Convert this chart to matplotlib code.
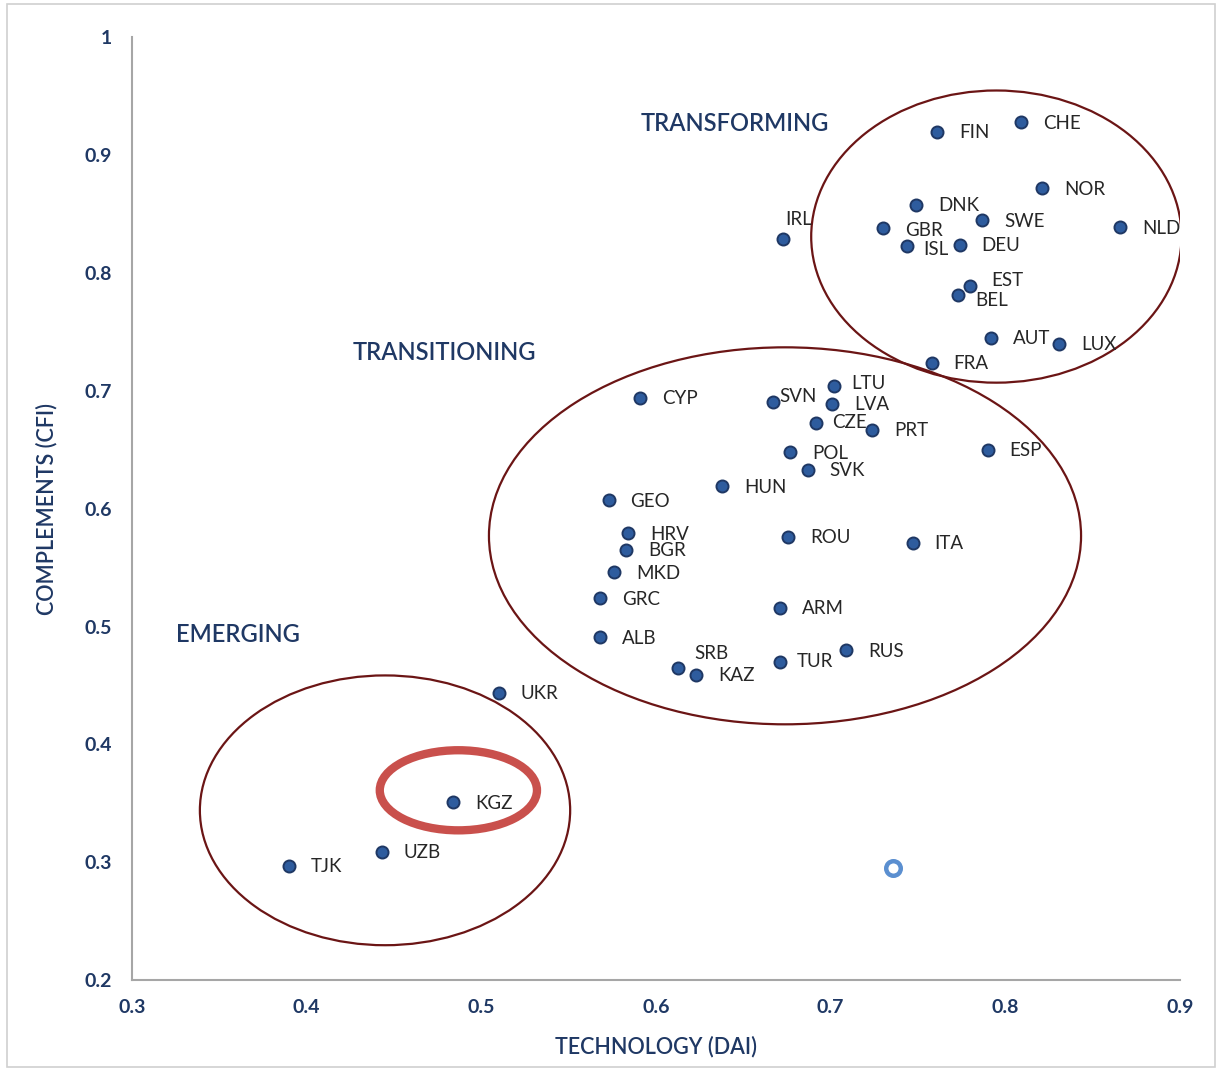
import numpy as np
import matplotlib.pyplot as plt
from matplotlib.patches import Ellipse, Rectangle

# datos de paises (DAI, CFI)
paises = ['CHE', 'FIN', 'NOR', 'DNK', 'SWE', 'NLD', 'GBR', 'IRL', 'ISL', 'DEU',
          'EST', 'BEL', 'AUT', 'LUX', 'FRA',
          'CYP', 'SVN', 'LTU', 'LVA', 'CZE', 'PRT', 'ESP', 'POL', 'SVK', 'HUN',
          'GEO', 'HRV', 'BGR', 'MKD', 'GRC', 'ROU', 'ITA', 'ARM', 'ALB', 'SRB',
          'KAZ', 'TUR', 'RUS',
          'UKR', 'KGZ', 'UZB', 'TJK']
dai = [0.809, 0.761, 0.821, 0.749, 0.787, 0.866, 0.730, 0.673, 0.744, 0.774,
       0.780, 0.773, 0.792, 0.831, 0.758,
       0.591, 0.667, 0.702, 0.701, 0.692, 0.724, 0.790, 0.677, 0.687, 0.638,
       0.573, 0.584, 0.583, 0.576, 0.568, 0.676, 0.747, 0.671, 0.568, 0.613,
       0.623, 0.671, 0.709,
       0.510, 0.484, 0.443, 0.390]
cfi = [0.928, 0.920, 0.872, 0.858, 0.845, 0.839, 0.838, 0.829, 0.823, 0.824,
       0.789, 0.781, 0.745, 0.740, 0.724,
       0.694, 0.691, 0.704, 0.689, 0.673, 0.667, 0.650, 0.648, 0.633, 0.619,
       0.607, 0.579, 0.565, 0.546, 0.524, 0.576, 0.571, 0.516, 0.491, 0.465,
       0.459, 0.470, 0.480,
       0.444, 0.351, 0.309, 0.297]

# punto suelto sin etiqueta
extra_x = [0.736]
extra_y = [0.295]

# grupos: nombre, posicion del texto y elipse (centro, ancho, alto)
grupos = ['TRANSFORMING', 'TRANSITIONING', 'EMERGING']
grupo_txt_x = [0.645, 0.479, 0.361]
grupo_txt_y = [0.927, 0.733, 0.493]
elipse_cx = [0.795, 0.674, 0.445]
elipse_cy = [0.831, 0.577, 0.344]
elipse_w = [0.212, 0.339, 0.212]
elipse_h = [0.248, 0.320, 0.229]

# resaltado de KGZ
kgz_elipse = (0.487, 0.361, 0.090, 0.068)

navy = '#1f3864'

# desplazamientos especiales de etiquetas (pixeles)
offsets = {'IRL': (2, 19), 'SVN': (7, 5), 'LTU': (17, 3), 'CZE': (16, 0),
           'ISL': (16, -3), 'EST': (21, 6), 'BEL': (17, -5), 'SRB': (16, 14),
           'TUR': (17, 0), 'GBR': (22, -2), 'FIN': (22, -1)}

plt.rcParams['font.family'] = ['Lato', 'DejaVu Sans']

fig = plt.figure(figsize=(12.2, 10.71), dpi=100)
ax = fig.add_axes([0.108, 0.085, 0.859, 0.880])

# marco exterior
fig.patches.append(Rectangle((0.006, 0.004), 0.99, 0.992, transform=fig.transFigure,
                             fill=False, edgecolor='#d0d0d0', linewidth=1.2))

ax.scatter(dai, cfi, s=75, color='#2e5c9e', edgecolor=navy, linewidth=1.4, zorder=3)
ax.scatter(extra_x, extra_y, s=110, facecolor='white', edgecolor='#5b8fd0',
           linewidth=3.2, zorder=3)

for p, x, y in zip(paises, dai, cfi):
    dx, dy = offsets.get(p, (22, -1))
    ax.annotate(p, (x, y), xytext=(dx, dy), textcoords='offset pixels',
                ha='left', va='center', fontsize=13.5, color='#262626', zorder=4)

for g, tx, ty, cx, cy, w, h in zip(grupos, grupo_txt_x, grupo_txt_y,
                                   elipse_cx, elipse_cy, elipse_w, elipse_h):
    ax.text(tx, ty, g, ha='center', va='center', fontsize=17, color=navy,
            fontweight='semibold')
    ax.add_patch(Ellipse((cx, cy), w, h, fill=False, edgecolor='#6b1515',
                         linewidth=1.6, zorder=2))

ax.add_patch(Ellipse(kgz_elipse[:2], kgz_elipse[2], kgz_elipse[3], fill=False,
                     edgecolor='#c9504c', linewidth=6, zorder=2))

ax.set_xlim(0.3, 0.9)
ax.set_ylim(0.2, 1.0)
ax.set_xticks(np.arange(0.3, 0.91, 0.1))
ax.set_yticks(np.arange(0.2, 1.01, 0.1))
ax.set_xticklabels(['0.3', '0.4', '0.5', '0.6', '0.7', '0.8', '0.9'])
ax.set_yticklabels(['0.2', '0.3', '0.4', '0.5', '0.6', '0.7', '0.8', '0.9', '1'])
ax.tick_params(length=0, labelsize=14, labelcolor=navy, pad=14)
for lab in ax.get_yticklabels() + ax.get_xticklabels():
    lab.set_fontweight('bold')

for s in ['top', 'right']:
    ax.spines[s].set_visible(False)
for s in ['left', 'bottom']:
    ax.spines[s].set_color('#a6a6a6')
    ax.spines[s].set_linewidth(1.5)

ax.set_xlabel('TECHNOLOGY (DAI)', fontsize=15.5, color=navy, labelpad=14,
              fontweight='semibold')
ax.set_ylabel('COMPLEMENTS (CFI)', fontsize=15.5, color=navy, labelpad=20,
              fontweight='semibold')

fig.savefig('out.png', dpi=100)
